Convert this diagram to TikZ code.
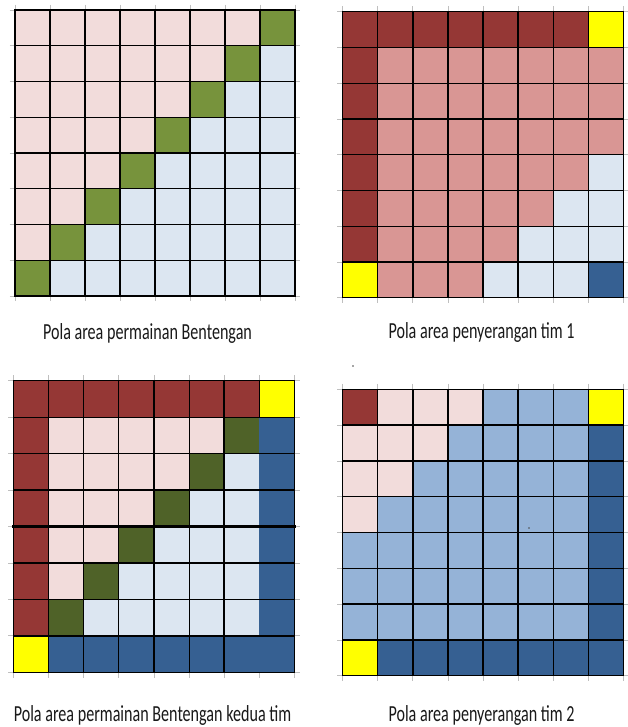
\documentclass[tikz,border=0pt]{standalone}
\usepackage{fontspec}
\setmainfont{Carlito}
\usetikzlibrary{positioning}
\definecolor{btpink}{HTML}{F2DCDB}
\definecolor{btice}{HTML}{DCE6F1}
\definecolor{btgreen}{HTML}{77933C}
\definecolor{btolive}{HTML}{4F6228}
\definecolor{btred}{HTML}{953735}
\definecolor{btrose}{HTML}{D99694}
\definecolor{btsun}{HTML}{FFFF00}
\definecolor{btnavy}{HTML}{366092}
\definecolor{btsky}{HTML}{95B3D7}
\newcommand{\areacells}[1]{%
  \foreach \rowcols [count=\rowno] in {#1}{%
    \foreach \cellcol [count=\colno] in \rowcols
      {\fill[\cellcol] (\colno-1,\rowno-1) rectangle (\colno,\rowno);}}}
\newcommand{\areaticks}{%
  \foreach \i in {0,...,8}{\draw[celltick] (\i,-.15)--(\i,8.15) (-.15,\i)--(8.15,\i);}}
\newcommand{\arealines}{%
  \foreach \i in {0,...,8}{\draw[cellline] (\i,0)--(\i,8) (0,\i)--(8,\i);}}
\tikzset{
  areagrid/.style n args={4}{shift={(#1pt,-#2pt)},x=#3pt,y=-#4pt},
  cellline/.style={black,line width=1.3pt,line cap=rect},
  celltick/.style={black!25,line width=.8pt},
  caption/.style={anchor=base,inner sep=0pt,font=\fontsize{23}{27}\selectfont,text=black!90}
}

\begin{document}
\begin{tikzpicture}[x=1pt,y=-1pt]
\fill[white] (0,0) rectangle (627,727);
\useasboundingbox (0,0) rectangle (627,727);
% pola area permainan
\begin{scope}[areagrid={15}{10}{35}{35.75}]
\areaticks
\areacells{{btpink,btpink,btpink,btpink,btpink,btpink,btpink,btgreen},
  {btpink,btpink,btpink,btpink,btpink,btpink,btgreen,btice},
  {btpink,btpink,btpink,btpink,btpink,btgreen,btice,btice},
  {btpink,btpink,btpink,btpink,btgreen,btice,btice,btice},
  {btpink,btpink,btpink,btgreen,btice,btice,btice,btice},
  {btpink,btpink,btgreen,btice,btice,btice,btice,btice},
  {btpink,btgreen,btice,btice,btice,btice,btice,btice},
  {btgreen,btice,btice,btice,btice,btice,btice,btice}}
\arealines
\end{scope}
% penyerangan tim 1
\begin{scope}[areagrid={342.7}{11.7}{35.08}{35.75}]
\areaticks
\areacells{{btred,btred,btred,btred,btred,btred,btred,btsun},
  {btred,btrose,btrose,btrose,btrose,btrose,btrose,btrose},
  {btred,btrose,btrose,btrose,btrose,btrose,btrose,btrose},
  {btred,btrose,btrose,btrose,btrose,btrose,btrose,btrose},
  {btred,btrose,btrose,btrose,btrose,btrose,btrose,btice},
  {btred,btrose,btrose,btrose,btrose,btrose,btice,btice},
  {btred,btrose,btrose,btrose,btrose,btice,btice,btice},
  {btsun,btrose,btrose,btrose,btice,btice,btice,btnavy}}
\arealines
\end{scope}
% kedua tim
\begin{scope}[areagrid={13.3}{380.7}{35.17}{36.45}]
\areaticks
\areacells{{btred,btred,btred,btred,btred,btred,btred,btsun},
  {btred,btpink,btpink,btpink,btpink,btpink,btolive,btnavy},
  {btred,btpink,btpink,btpink,btpink,btolive,btice,btnavy},
  {btred,btpink,btpink,btpink,btolive,btice,btice,btnavy},
  {btred,btpink,btpink,btolive,btice,btice,btice,btnavy},
  {btred,btpink,btolive,btice,btice,btice,btice,btnavy},
  {btred,btolive,btice,btice,btice,btice,btice,btnavy},
  {btsun,btnavy,btnavy,btnavy,btnavy,btnavy,btnavy,btnavy}}
\foreach \i in {0,...,6,8}{\draw[cellline] (\i,0)--(\i,8);}
\foreach \i in {0,...,8}{\draw[cellline] (0,\i)--(8,\i);}
\draw[cellline] (7,0)--(7,1);
\draw[cellline,line width=2.2pt] (0,4)--(8,4) (6,0)--(6,8);
\end{scope}
% penyerangan tim 2
\begin{scope}[areagrid={342.7}{389.3}{35.08}{35.8}]
\areaticks
\areacells{{btred,btpink,btpink,btpink,btsky,btsky,btsky,btsun},
  {btpink,btpink,btpink,btsky,btsky,btsky,btsky,btnavy},
  {btpink,btpink,btsky,btsky,btsky,btsky,btsky,btnavy},
  {btpink,btsky,btsky,btsky,btsky,btsky,btsky,btnavy},
  {btsky,btsky,btsky,btsky,btsky,btsky,btsky,btnavy},
  {btsky,btsky,btsky,btsky,btsky,btsky,btsky,btnavy},
  {btsky,btsky,btsky,btsky,btsky,btsky,btsky,btnavy},
  {btsun,btnavy,btnavy,btnavy,btnavy,btnavy,btnavy,btnavy}}
\arealines
\end{scope}
\fill[black!70] (353,366) circle (.8) (529,528) circle (.8);
\node[caption] (capmain) at (147.5,339) {\scalebox{.7}[1]{Pola area permainan Bentengan}};
\node[caption] (capone) at (481.5,338) {\scalebox{.7}[1]{Pola area penyerangan tim 1}};
\node[caption] (capboth) at (152.5,721.5) {\scalebox{.7}[1]{Pola area permainan Bentengan kedua tim}};
\node[caption] (captwo) at (481.5,721.5) {\scalebox{.7}[1]{Pola area penyerangan tim 2}};
\end{tikzpicture}
\end{document}
